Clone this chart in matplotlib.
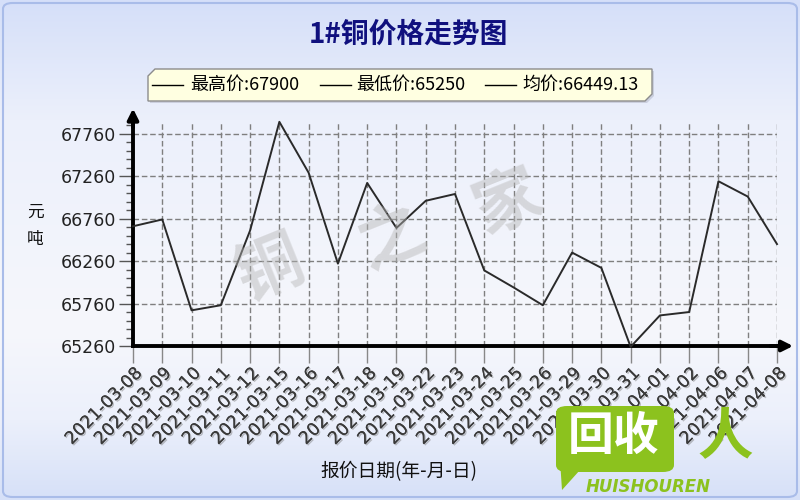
import numpy as np
import matplotlib
matplotlib.use("Agg")
import matplotlib.pyplot as plt
from matplotlib.patches import Polygon, FancyBboxPatch
from matplotlib.lines import Line2D
import matplotlib.patheffects as pe

plt.rcParams['font.family'] = ['Noto Sans CJK SC', 'DejaVu Sans']

# ---------------- data ----------------
dates = ["2021-03-08", "2021-03-09", "2021-03-10", "2021-03-11", "2021-03-12",
         "2021-03-15", "2021-03-16", "2021-03-17", "2021-03-18", "2021-03-19",
         "2021-03-22", "2021-03-23", "2021-03-24", "2021-03-25", "2021-03-26",
         "2021-03-29", "2021-03-30", "2021-03-31", "2021-04-01", "2021-04-02",
         "2021-04-06", "2021-04-07", "2021-04-08"]
prices = [66670, 66750, 65680, 65740, 66620,
          67900, 67300, 66230, 67180, 66650,
          66970, 67050, 66150, 65950, 65740,
          66360, 66180, 65250, 65620, 65660,
          67200, 67020, 66460]
ytick_values = [65260, 65760, 66260, 66760, 67260, 67760]
title = "1#铜价格走势图"
legend_labels = ["最高价:67900", "最低价:65250", "均价:66449.13"]
ylabel_chars = "元\n吨"
xlabel = "报价日期(年-月-日)"

W, H = 800, 500
fig = plt.figure(figsize=(8, 5), dpi=100)

def fx(x):
    return x / W

def fy(y):
    return 1 - y / H

# ---------------- background gradient ----------------
bg = fig.add_axes([0, 0, 1, 1], zorder=-10)
bg.set_axis_off()
stops_y = np.array([0, 120, 330, 420, 500]) / H
c_top = np.array([213, 223, 249]) / 255
c_mid = np.array([236, 240, 251]) / 255
c_white = np.array([246, 247, 252]) / 255
c_bot = np.array([214, 224, 248]) / 255
cols = np.array([c_top, c_mid, c_white, c_mid, c_bot])
ys = np.linspace(0, 1, 500)
grad = np.stack([np.interp(ys, stops_y, cols[:, i]) for i in range(3)], axis=1)
bg.imshow(grad[:, None, :], aspect='auto', extent=[0, 1, 0, 1])
bg.set_xlim(0, 1)
bg.set_ylim(0, 1)
border = FancyBboxPatch((fx(3), fy(497)), fx(794), 494 / H,
                        boxstyle="round,pad=0,rounding_size=0.012",
                        transform=fig.transFigure, fill=False,
                        ec='#a9bce9', lw=1.5)
fig.patches.append(border)

# ---------------- main axes ----------------
x = np.arange(len(dates))
ax = fig.add_axes([fx(133), fy(346), fx(777) - fx(133), (346 - 123) / H])
ax.set_facecolor('none')
ax.set_xlim(0, len(dates) - 1)
ax.set_ylim(65260, 67886)

ax.plot(x, prices, color='#2a2a2a', lw=1.4, clip_on=False, zorder=5)

ax.set_yticks(ytick_values)
ax.set_yticklabels([str(v) for v in ytick_values], family='DejaVu Sans',
                   fontsize=12.5, color='#222222')
ax.set_yticks(np.arange(65260, 67887, 100), minor=True)
ax.tick_params(axis='y', which='major', length=10, width=1, color='#555555',
               pad=2, direction='out')
ax.tick_params(axis='y', which='minor', length=5, width=1, color='#555555',
               direction='out')

ax.set_xticks(x)
ax.set_xticklabels(dates, rotation=45, ha='right', va='top',
                   rotation_mode='anchor', family='DejaVu Sans',
                   fontsize=12.5, color='#3a3a3a')
for lab in ax.get_xticklabels():
    lab.set_path_effects([pe.withSimplePatchShadow(offset=(1, -1),
                                                   shadow_rgbFace='#777777',
                                                   alpha=0.45),
                          pe.Normal()])
ax.tick_params(axis='x', which='major', length=12, width=1, color='#888888',
               pad=1, direction='out')

ax.grid(True, which='major', axis='both', color='#7f7f7f', lw=1,
        linestyle=(0, (4, 2)))
ax.set_axisbelow(True)

for s in ['top', 'right']:
    ax.spines[s].set_visible(False)
for s in ['left', 'bottom']:
    ax.spines[s].set_linewidth(2.8)
    ax.spines[s].set_color('black')

# axis arrows
ax.annotate('', xy=(0, 1.065), xytext=(0, 0.98), xycoords='axes fraction',
            arrowprops=dict(arrowstyle='-|>', lw=2.8, color='black',
                            mutation_scale=16, shrinkA=0, shrinkB=0),
            annotation_clip=False)
ax.annotate('', xy=(1.025, 0), xytext=(0.99, 0), xycoords='axes fraction',
            arrowprops=dict(arrowstyle='-|>', lw=2.8, color='black',
                            mutation_scale=16, shrinkA=0, shrinkB=0),
            annotation_clip=False)

# ---------------- watermark ----------------
for ch, (px, py) in zip("铜之家", [(270, 270), (392, 238), (508, 203)]):
    fig.text(fx(px), fy(py), ch, fontsize=48, color='#b5b5b5', alpha=0.45,
             ha='center', va='center', rotation=22, weight='bold', zorder=1)

# ---------------- title ----------------
fig.text(fx(408), fy(35), title, fontsize=20, color='#10107e', weight='bold',
         ha='center', va='center')

# ---------------- legend box ----------------
c = 7
lx0, lx1, ly0, ly1 = 148, 652, 69, 101
shadow = Polygon([(fx(lx0 + c + 2), fy(ly0 + 2)), (fx(lx1 + 2), fy(ly0 + 2)),
                  (fx(lx1 + 2), fy(ly1 - c + 2)), (fx(lx1 - c + 2), fy(ly1 + 2)),
                  (fx(lx0 + 2), fy(ly1 + 2)), (fx(lx0 + 2), fy(ly0 + c + 2))],
                 closed=True, transform=fig.transFigure, fc='#b8bccc',
                 ec='none', alpha=0.6)
fig.patches.append(shadow)
box = Polygon([(fx(lx0 + c), fy(ly0)), (fx(lx1), fy(ly0)),
               (fx(lx1), fy(ly1 - c)), (fx(lx1 - c), fy(ly1)),
               (fx(lx0), fy(ly1)), (fx(lx0), fy(ly0 + c))],
              closed=True, transform=fig.transFigure, fc='#ffffe1',
              ec='#8c8c8c', lw=1)
fig.patches.append(box)
seg = [(152, 183, 190), (320, 351, 356), (485, 516, 522)]
for (l0, l1, t0), lab in zip(seg, legend_labels):
    fig.lines.append(Line2D([fx(l0), fx(l1)], [fy(85), fy(85)],
                            transform=fig.transFigure, color='black', lw=1))
    fig.text(fx(t0), fy(85), lab, fontsize=13, color='black',
             ha='left', va='center')

# ---------------- axis labels ----------------
fig.text(fx(35), fy(226), ylabel_chars, fontsize=12, color='#111111',
         ha='center', va='center', linespacing=1.75)
fig.text(fx(399), fy(472), xlabel, fontsize=13.5, color='#111111',
         ha='center', va='center')

# ---------------- logo ----------------
green = '#8cc21e'
logo = FancyBboxPatch((fx(556), fy(472)), fx(118), 66 / H,
                      boxstyle="round,pad=0,rounding_size=0.014",
                      transform=fig.transFigure, fc=green, ec='none', zorder=6)
fig.patches.append(logo)
tail = Polygon([(fx(560), fy(460)), (fx(580), fy(470)), (fx(562), fy(490))],
               closed=True, transform=fig.transFigure, fc=green, ec='none',
               zorder=6)
fig.patches.append(tail)
fig.text(fx(614), fy(437), "回收", fontsize=33, color='white', weight='heavy',
         ha='center', va='center', zorder=7)
fig.text(fx(725), fy(438), "人", fontsize=40, color=green, weight='bold',
         ha='center', va='center', zorder=7, style='italic')
fig.text(fx(648), fy(487), "HUISHOUREN", fontsize=12, color=green,
         weight='bold', style='italic', family='DejaVu Sans',
         ha='center', va='center', zorder=7)

fig.savefig("out.png", dpi=100)
